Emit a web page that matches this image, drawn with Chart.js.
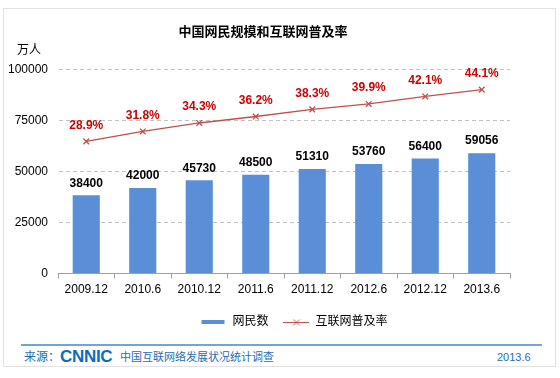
<!DOCTYPE html>
<html>
<head>
<meta charset="utf-8">
<script src="https://cdn.jsdelivr.net/npm/chart.js@4.4.0/dist/chart.umd.min.js"></script>
<style>
    body { margin: 0; background: #fff; }
    #wrap { position: relative; width: 560px; height: 378px; font-family: Arial, "Liberation Sans", "Noto Sans CJK SC", sans-serif; }
    #frame { position: absolute; left: 3px; top: 8px; width: 553px; height: 359px; border: 1px solid #e2e2e2; box-sizing: border-box; }
    #chart { position: absolute; left: 0; top: 0; }
    #footLine { position: absolute; left: 21px; top: 344px; width: 521px; height: 2px; background: #6fa5dc; }
    .foot { position: absolute; top: 350px; font-size: 11px; line-height: 15px; color: #1d6db6; white-space: nowrap; }
    #logo { position: absolute; left: 60px; top: 347px; font-size: 17px; line-height: 19px; font-weight: bold; color: #0e6cb8; letter-spacing: -0.3px; font-family: "Liberation Sans", Arial, sans-serif; }
</style>
</head>
<body>
<div id="wrap">
    <div id="frame"></div>
    <canvas id="chart" width="560" height="338" style="width:560px;height:338px"></canvas>
    <div id="footLine"></div>
    <div class="foot" style="left:24px;font-size:12px">来源：</div>
    <div id="logo">CNNIC</div>
    <div class="foot" style="left:120px">中国互联网络发展状况统计调查</div>
    <div class="foot" style="left:497px">2013.6</div>
</div>
<script>
const fontFamily = 'Arial, "Liberation Sans", "Noto Sans CJK SC", sans-serif';

const categories = ['2009.12', '2010.6', '2010.12', '2011.6', '2011.12', '2012.6', '2012.12', '2013.6'];
const netizens = [38400, 42000, 45730, 48500, 51310, 53760, 56400, 59056];
const penetration = [28.9, 31.8, 34.3, 36.2, 38.3, 39.9, 42.1, 44.1];
const yTicks = [0, 25000, 50000, 75000, 100000];

const barColor = '#5a8fd7';
const lineColor = '#c0504d';
const labelRed = '#cc0000';

// small canvases used as legend markers
const makeMarker = (draw) => {
    const c = document.createElement('canvas');
    c.width = 26;
    c.height = 12;
    draw(c.getContext('2d'));
    return c;
};
const barMarker = makeMarker((ctx) => {
    ctx.fillStyle = barColor;
    ctx.fillRect(1, 4, 23, 4);
});
const lineMarker = makeMarker((ctx) => {
    ctx.strokeStyle = lineColor;
    ctx.lineWidth = 1;
    ctx.beginPath();
    ctx.moveTo(0, 6.5);
    ctx.lineTo(26, 6.5);
    ctx.moveTo(10, 3.5);
    ctx.lineTo(16, 9.5);
    ctx.moveTo(16, 3.5);
    ctx.lineTo(10, 9.5);
    ctx.stroke();
});

const valueLabels = {
    id: 'valueLabels',
    afterDatasetsDraw(chart) {
        const ctx = chart.ctx;
        ctx.save();
        ctx.textAlign = 'center';
        ctx.textBaseline = 'middle';
        ctx.font = 'bold 12px ' + fontFamily;

        ctx.fillStyle = '#000';
        chart.getDatasetMeta(0).data.forEach((bar, i) => {
            ctx.fillText(String(netizens[i]), bar.x, bar.y - 12);
        });

        ctx.fillStyle = labelRed;
        chart.getDatasetMeta(1).data.forEach((pt, i) => {
            ctx.fillText(penetration[i].toFixed(1) + '%', pt.x, pt.y - 16);
        });

        // unit label
        ctx.font = '12px ' + fontFamily;
        ctx.fillStyle = '#000';
        ctx.fillText('万人', 29, 51);
        ctx.restore();
    }
};

const nudgeBoxes = {
    id: 'nudgeBoxes',
    afterLayout(chart) {
        chart.legend.left += 10;
        chart.legend.right += 10;
        chart.titleBlock.left += 4;
        chart.titleBlock.right += 4;
    }
};

new Chart(document.getElementById('chart'), {
    data: {
        labels: categories,
        datasets: [
            {
                type: 'bar',
                label: '网民数',
                data: netizens,
                backgroundColor: barColor,
                yAxisID: 'y',
                categoryPercentage: 1,
                barPercentage: 0.48,
                order: 1
            },
            {
                type: 'line',
                label: '互联网普及率',
                data: penetration,
                borderColor: lineColor,
                borderWidth: 1.3,
                pointStyle: 'crossRot',
                pointRadius: 4,
                pointBorderColor: lineColor,
                pointBorderWidth: 1.3,
                yAxisID: 'y1',
                order: 0
            }
        ]
    },
    options: {
        responsive: false,
        animation: false,
        layout: { padding: { left: 8, right: 50, top: 0, bottom: 0 } },
        scales: {
            x: {
                grid: { drawOnChartArea: false, drawTicks: true, tickLength: 5, color: '#a0a0a0' },
                border: { color: '#a0a0a0' },
                ticks: { padding: 4, color: '#000', font: { size: 12, family: fontFamily } }
            },
            y: {
                min: 0,
                max: 100000,
                afterBuildTicks: (scale) => {
                    scale.ticks = yTicks.map((v) => ({ value: v }));
                },
                afterFit: (scale) => {
                    scale.width = 50;
                },
                grid: { drawTicks: false, color: '#c2c2c2', lineWidth: 1 },
                border: { display: true, color: 'rgba(0,0,0,0)', dash: [4, 3] },
                ticks: {
                    padding: 10,
                    color: '#000',
                    font: { size: 12, family: fontFamily },
                    callback: (v) => String(v)
                }
            },
            y1: {
                display: false,
                position: 'right',
                min: -10,
                max: 50
            }
        },
        plugins: {
            title: {
                display: true,
                text: '中国网民规模和互联网普及率',
                color: '#000',
                font: { size: 13, weight: 'bold', family: fontFamily },
                padding: { top: 25, bottom: 29 }
            },
            legend: {
                position: 'bottom',
                fullSize: false,
                labels: {
                    usePointStyle: true,
                    pointStyleWidth: 26,
                    padding: 15,
                    color: '#000',
                    font: { size: 12, family: fontFamily },
                    generateLabels: () => [
                        { text: '网民数', pointStyle: barMarker, fillStyle: barColor, strokeStyle: barColor, lineWidth: 0, datasetIndex: 0 },
                        { text: '互联网普及率', pointStyle: lineMarker, fillStyle: lineColor, strokeStyle: lineColor, lineWidth: 0, datasetIndex: 1 }
                    ]
                }
            },
            tooltip: { enabled: false }
        }
    },
    plugins: [valueLabels, nudgeBoxes]
});
</script>
</body>
</html>
